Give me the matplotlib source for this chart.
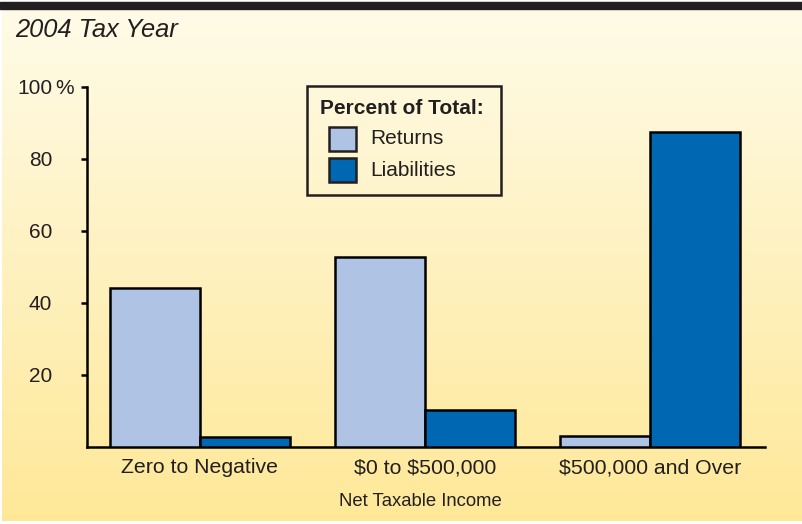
import numpy as np
import matplotlib
matplotlib.use('Agg')
import matplotlib.pyplot as plt
from matplotlib.patches import Rectangle

categories = ['Zero to Negative', '$0 to $500,000', '$500,000 and Over']
returns = [44.2, 52.9, 3.0]
liabilities = [2.9, 10.3, 87.4]
ytick_vals = [20, 40, 60, 80, 100]
ytick_labels = ['20', '40', '60', '80', '100']
series_names = ['Returns', 'Liabilities']

plt.rcParams['font.family'] = ['Liberation Sans', 'DejaVu Sans']
plt.rcParams['text.parse_math'] = False
ink = '#231f20'
light = '#afc3e5'
dark = '#0068b3'

W, H = 802, 524
fig = plt.figure(figsize=(W / 100, H / 100), dpi=100)

def fx(px):
    return px / W

def fy(py):
    return 1 - py / H

# background gradient
bg = fig.add_axes([0, 0, 1, 1])
grad = np.linspace(0, 1, 256).reshape(-1, 1)
top = np.array([255, 251, 232]) / 255
bot = np.array([254, 232, 152]) / 255
img = top + (bot - top) * grad[:, :, None]
bg.imshow(img, aspect='auto', extent=[fx(2), 1, fy(521), fy(9)], transform=fig.transFigure)
bg.add_patch(Rectangle((0, fy(9)), 1, 7 / H, transform=fig.transFigure, color=ink))
bg.set_xlim(0, 1)
bg.set_ylim(0, 1)
bg.axis('off')

ax = fig.add_axes([fx(87), fy(447), (765 - 87) / W, (447 - 87) / H])
ax.set_facecolor('none')
x = np.arange(len(categories))
w = 0.4
ax.bar(x - w / 2, returns, w, color=light, edgecolor='black', linewidth=1.8, zorder=3)
ax.bar(x + w / 2, liabilities, w, color=dark, edgecolor='black', linewidth=1.8, zorder=3)

ax.set_xlim(-0.502, 2.511)
ax.set_ylim(0, 100)
for s in ['top', 'right']:
    ax.spines[s].set_visible(False)
for s in ['left', 'bottom']:
    ax.spines[s].set_linewidth(1.8)
    ax.spines[s].set_color('black')

ax.set_yticks(ytick_vals)
ax.set_yticklabels(ytick_labels)
ax.tick_params(axis='y', direction='out', length=4, width=1.8, pad=21, labelsize=15, labelcolor=ink)
ax.set_xticks(x)
ax.set_xticklabels(categories)
ax.tick_params(axis='x', length=0, pad=8, labelsize=15.3, labelcolor=ink)
fig.text(fx(55), fy(87), '%', ha='left', va='center_baseline', fontsize=15, color=ink)

fig.text(fx(420), fy(502), 'Net Taxable Income', ha='center', va='center', fontsize=13.3, color=ink)
fig.text(fx(15), fy(37), '2004 Tax Year', ha='left', va='baseline', fontsize=18.4,
         style='italic', color=ink)

# legend box
fig.patches.append(Rectangle((fx(307), fy(195)), (501 - 307) / W, (195 - 86) / H,
                             transform=fig.transFigure, facecolor='none', edgecolor=ink,
                             linewidth=1.8, zorder=5))
fig.text(fx(320), fy(109), 'Percent of Total:', ha='left', va='center', fontsize=15,
         fontweight='bold', color=ink)
for name, col, cy in zip(series_names, [light, dark], [139, 170]):
    fig.patches.append(Rectangle((fx(329), fy(cy + 12)), 27 / W, 24 / H, transform=fig.transFigure,
                                 facecolor=col, edgecolor=ink, linewidth=1.8, zorder=5))
    fig.text(fx(370), fy(cy), name, ha='left', va='center', fontsize=15, color=ink)

fig.savefig('out.png', dpi=100)
